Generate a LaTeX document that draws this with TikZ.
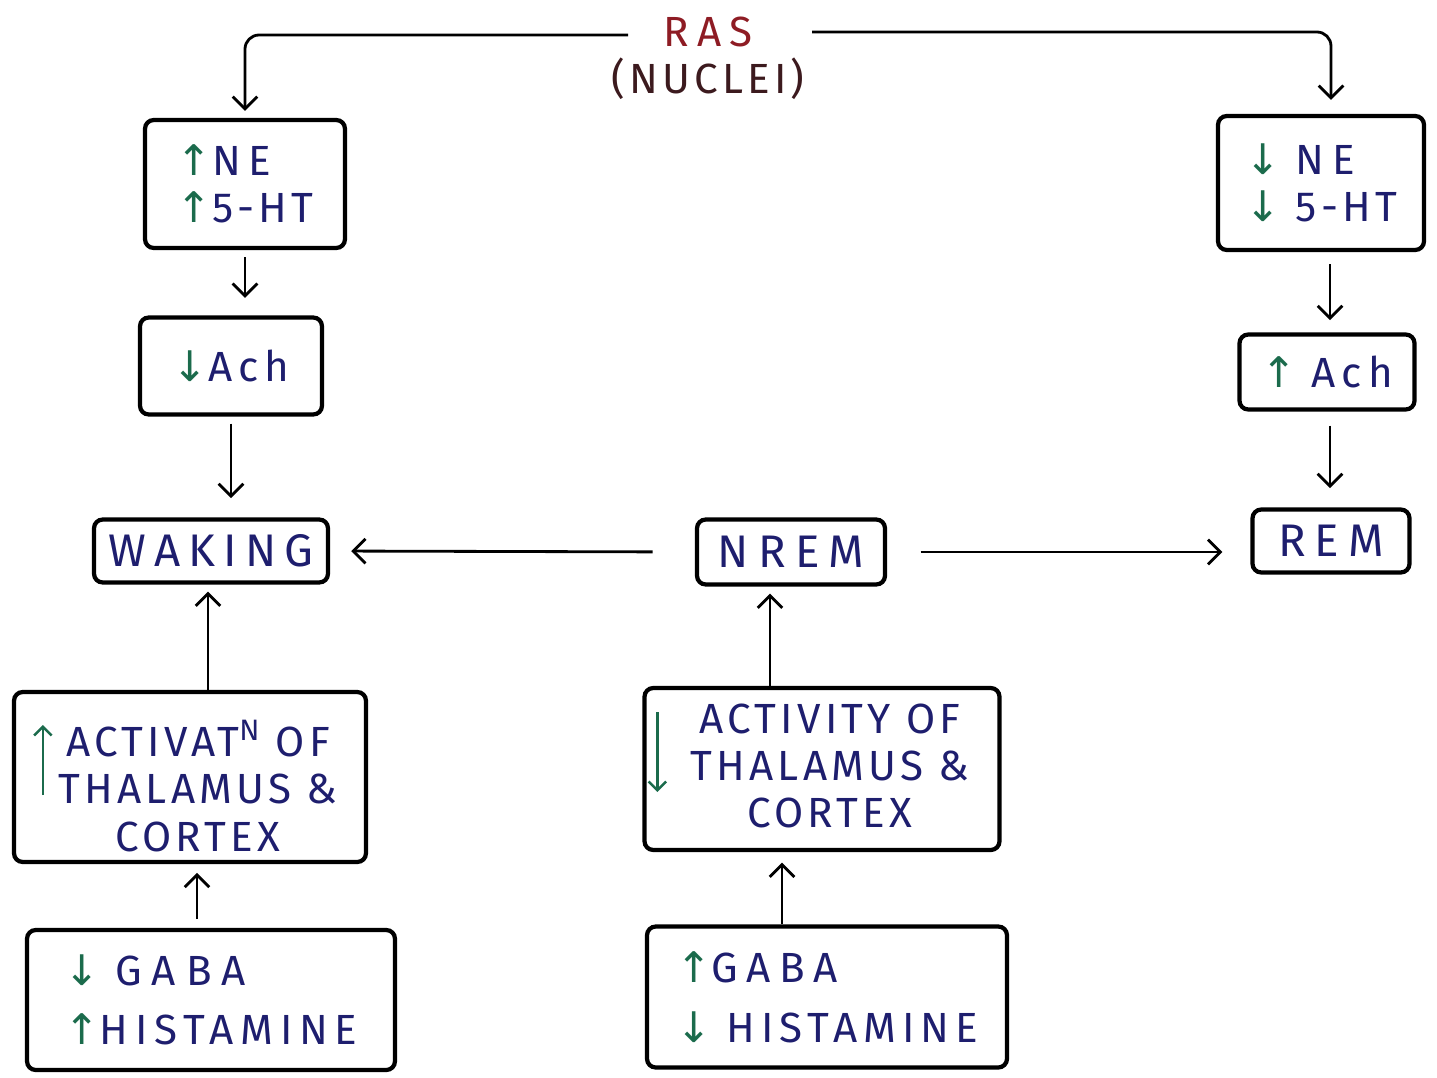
\documentclass[tikz,border=0pt]{standalone}
\usepackage{fontspec}
\setmainfont[LetterSpace=10]{Fira Sans}
\newfontfamily\arrf{DejaVu Sans}
\usetikzlibrary{arrows.meta,calc}
\definecolor{ink}{HTML}{1E1E6E}
\definecolor{grn}{HTML}{1B6B4C}
\definecolor{rasred}{HTML}{8E1C24}
\definecolor{nucl}{HTML}{3C1A1E}
\newcommand{\upa}{\textcolor{grn}{\arrf ↑}}
\newcommand{\dna}{\textcolor{grn}{\arrf ↓}}
\newcommand{\lsp}[2]{{\addfontfeature{LetterSpace=#1}#2}}
\begin{document}
\begin{tikzpicture}[x=0.02cm,y=-0.02cm,
 box/.style={draw=black, line width=2.4pt, rounded corners=5pt, text=ink, font=\fontsize{24}{27}\selectfont, inner sep=4pt},
 txt/.style={text=ink, font=\fontsize{24}{27}\selectfont, inner sep=0pt},
 sz/.style 2 args={minimum width=#1*0.02cm, minimum height=#2*0.02cm},
 conn/.style={line width=1.6pt, -{Straight Barb[length=7pt,width=14pt]}, rounded corners=8pt},
 garr/.style={grn, line width=1.4pt, -{Straight Barb[length=5pt,width=10pt]}}]
\useasboundingbox (0,0) rectangle (1437,1078);

% RAS
\node[font=\fontsize{24}{27}\selectfont, align=center, inner sep=0pt] (ras) at (708,58)
  {\textcolor{rasred}{\lsp{20}{RAS}}\\\textcolor{nucl}{(NUCLEI)}};
\coordinate (rasL) at (628,35);
\coordinate (rasR) at (812,32);

% left column
\node[box, sz={200}{128}, align=left] (ne1) at (245,184) {\upa\lsp{18}{NE}\\\upa 5-HT};
\node[box, sz={182}{97}] (ach1) at (231,366) {\dna\lsp{14}{Ach}};
\node[box, sz={234}{63}, font=\fontsize{26}{28}\selectfont] (wak) at (211,551) {\lsp{18}{WAKING}};
\node[box, sz={352}{170}] (act) at (190,777) {};
\node[txt, align=center] (actT) at (198,786) {ACTIVAT\textsuperscript{N} OF\\THALAMUS \&\\CORTEX};
\node[box, sz={368}{140}, align=left] (gaba1) at (211,1000) {\dna\ \lsp{24}{GABA}\\[7pt]\upa\lsp{16}{HISTAMINE}};

% middle column
\node[box, sz={188}{65}, font=\fontsize{26}{28}\selectfont] (nrem) at (791,552) {\lsp{20}{NREM}};
\node[box, sz={355}{162}] (actv) at (822,769) {};
\node[txt, align=center] (actvT) at (830,766) {ACTIVITY OF\\THALAMUS \&\\CORTEX};
\node[box, sz={360}{141}, align=left] (gaba2) at (827,997) {\upa\lsp{20}{GABA}\\[7pt]\dna\ \lsp{14}{HISTAMINE}};

% right column
\node[box, sz={206}{134}, align=left] (ne2) at (1321,183) {\dna\ \lsp{18}{NE}\\\dna\ 5-HT};
\node[box, sz={175}{75}] (ach2) at (1327,372) {\upa\ \lsp{14}{Ach}};
\node[box, sz={157}{63}, font=\fontsize{26}{28}\selectfont] (rem) at (1331,541) {\lsp{20}{REM}};

% green arrows spanning lines
\draw[garr] ($(act.west)+(31,18)$) -- ($(act.west)+(31,-52)$);
\draw[garr] ($(actv.west)+(15,-57)$) -- ($(actv.west)+(15,23)$);

% connectors
\draw[conn, shorten >=4pt] (rasL) -| (ne1.north);
\draw[conn, shorten >=8pt] (rasR) -| ([xshift=0.2cm]ne2.north);
\draw[conn, shorten <=4pt, shorten >=10pt] (ne1.south) -- (ne1.south |- ach1.north);
\draw[conn, shorten <=4pt, shorten >=11pt] (ach1.south) -- (ach1.south |- wak.north);
\draw[conn, shorten <=7pt, shorten >=7pt] ([xshift=0.18cm]ne2.south) -- ([xshift=0.18cm]ne2.south |- ach2.north);
\draw[conn, shorten <=8pt, shorten >=11pt] ([xshift=0.06cm]ach2.south) -- ([xshift=0.06cm]ach2.south |- rem.north);
\draw[conn, shorten <=24pt, shorten >=12pt] (nrem.west) -- (wak.east);
\draw[conn, shorten <=19pt, shorten >=16pt] (nrem.east) -- (nrem.east -| rem.west);
\draw[conn, shorten >=4pt] ([xshift=0.36cm]act.north) -- ([xshift=0.36cm]act.north |- wak.south);
\draw[conn, shorten <=5pt, shorten >=5pt] ([xshift=-0.28cm]gaba1.north) -- ([xshift=-0.28cm]gaba1.north |- act.south);
\draw[conn, shorten >=4pt] ([xshift=-1.04cm]actv.north) -- ([xshift=-1.04cm]actv.north |- nrem.south);
\draw[conn, shorten >=6pt] ([xshift=-0.9cm]gaba2.north) -- ([xshift=-0.9cm]gaba2.north |- actv.south);
\end{tikzpicture}
\end{document}
